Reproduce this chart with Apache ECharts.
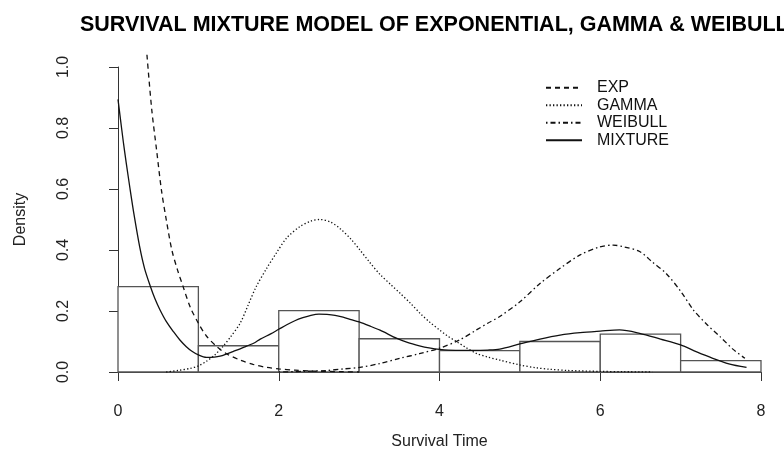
<!DOCTYPE html>
<html>
<head>
<meta charset="utf-8">
<script src="https://cdn.jsdelivr.net/npm/echarts@6/dist/echarts.min.js"></script>
<style>html,body{margin:0;padding:0;background:#fff}#c{width:784px;height:449px}</style>
</head>
<body>
<div id="c"></div>
<script>
// Histogram bins: [start, end, density]
const binStarts = [0, 1, 2, 3, 4, 5, 6, 7];
const binEnds   = [1, 2, 3, 4, 5, 6, 7, 8];
const binDensity = [0.28, 0.086, 0.201, 0.109, 0.070, 0.100, 0.124, 0.037];

// Curves: [x, density]
const expCurve = [
  [0.36,1.04],[0.42,0.86],[0.48,0.728],[0.54,0.597],[0.60,0.50],[0.67,0.40],[0.74,0.335],
  [0.81,0.28],[0.90,0.212],[1.00,0.16],[1.10,0.118],[1.23,0.083],[1.35,0.060],[1.52,0.039],
  [1.68,0.025],[1.85,0.015],[2.00,0.010],[2.20,0.006],[2.40,0.003],[2.60,0.002],[2.80,0.001],[3.00,0.0]
];
const gammaCurve = [
  [0.60,0.0],[0.75,0.005],[0.90,0.012],[1.00,0.02],[1.10,0.035],[1.20,0.055],[1.30,0.082],
  [1.40,0.115],[1.52,0.16],[1.62,0.22],[1.72,0.28],[1.85,0.34],[1.97,0.39],[2.10,0.44],
  [2.26,0.476],[2.40,0.495],[2.51,0.50],[2.64,0.492],[2.76,0.471],[2.90,0.435],[3.01,0.40],
  [3.13,0.36],[3.26,0.32],[3.40,0.285],[3.51,0.258],[3.64,0.225],[3.76,0.192],[3.88,0.163],
  [4.00,0.138],[4.10,0.118],[4.21,0.10],[4.33,0.08],[4.46,0.061],[4.60,0.049],[4.75,0.039],
  [5.00,0.023],[5.20,0.014],[5.37,0.009],[5.60,0.005],[6.00,0.002],[6.30,0.001],[6.65,0.0]
];
const weibullCurve = [
  [2.00,0.0],[2.30,0.002],[2.60,0.005],[2.80,0.010],[3.01,0.015],[3.26,0.028],[3.51,0.045],
  [3.75,0.060],[4.00,0.078],[4.25,0.105],[4.46,0.138],[4.60,0.160],[4.75,0.182],[5.00,0.23],
  [5.25,0.29],[5.50,0.34],[5.75,0.384],[5.99,0.41],[6.16,0.416],[6.30,0.41],[6.49,0.395],
  [6.65,0.36],[6.82,0.323],[7.00,0.265],[7.16,0.203],[7.33,0.155],[7.49,0.116],[7.65,0.075],[7.80,0.045]
];
const mixtureCurve = [
  [0.00,0.894],[0.03,0.83],[0.066,0.755],[0.10,0.69],[0.15,0.60],[0.20,0.515],[0.27,0.41],[0.33,0.34],
  [0.40,0.283],[0.46,0.24],[0.52,0.205],[0.60,0.166],[0.69,0.132],[0.77,0.105],[0.85,0.083],[0.92,0.068],
  [1.00,0.056],[1.10,0.048],[1.20,0.049],[1.27,0.052],[1.35,0.059],[1.43,0.067],[1.52,0.076],
  [1.60,0.085],[1.70,0.096],[1.77,0.108],[1.90,0.125],[2.00,0.14],[2.10,0.155],[2.20,0.168],
  [2.30,0.178],[2.40,0.186],[2.50,0.19],[2.60,0.189],[2.70,0.186],[2.80,0.18],[2.90,0.172],
  [3.00,0.164],[3.13,0.151],[3.26,0.137],[3.47,0.11],[3.60,0.097],[3.75,0.086],[3.87,0.079],
  [4.00,0.074],[4.20,0.071],[4.40,0.071],[4.60,0.072],[4.75,0.075],[5.00,0.092],[5.25,0.108],
  [5.50,0.121],[5.75,0.129],[6.00,0.134],[6.24,0.138],[6.49,0.127],[6.75,0.108],[7.00,0.089],
  [7.20,0.066],[7.40,0.045],[7.60,0.027],[7.82,0.015]
];
const xTicks = [0, 2, 4, 6, 8];
const yTicks = [0, 0.2, 0.4, 0.6, 0.8, 1.0];
const legendNames = ['EXP', 'GAMMA', 'WEIBULL', 'MIXTURE'];
const titleText = 'SURVIVAL MIXTURE MODEL OF EXPONENTIAL, GAMMA & WEIBULL';

const FONT = 'Liberation Sans, Arial, sans-serif';
const histData = binStarts.map((s, i) => [s, binEnds[i], binDensity[i]]);

const chart = echarts.init(document.getElementById('c'), null, {renderer: 'canvas'});
function lineSeries(name, data, type) {
  return {
    name: name, type: 'line', data: data, symbol: 'none', clip: false,
    smooth: 0.3, z: 3,
    lineStyle: {color: '#111', width: 1.3, type: type},
    itemStyle: {color: '#111'}
  };
}
chart.setOption({
  animation: false,
  backgroundColor: '#fff',
  title: {
    text: titleText, left: 75, top: 9,
    textStyle: {fontFamily: FONT, fontSize: 21.5, fontWeight: 'bold', color: '#000'}
  },
  legend: {
    data: legendNames, orient: 'vertical', left: 545, top: 79, padding: 0,
    itemWidth: 36, itemHeight: 12, itemGap: 0,
    itemStyle: {opacity: 0},
    textStyle: {fontFamily: FONT, fontSize: 16, color: '#111', lineHeight: 17.5, padding: [0, 0, 0, 10]}
  },
  grid: {left: 118, top: 67, width: 643, height: 305, outerBoundsMode: 'none', containLabel: false},
  xAxis: {
    type: 'value', min: 0, max: 8, interval: 2, offset: 11,
    name: 'Survival Time', nameLocation: 'middle', nameGap: 51,
    nameTextStyle: {fontFamily: FONT, fontSize: 16, color: '#222'},
    axisLine: {lineStyle: {color: '#333', width: 1}},
    axisTick: {length: 9, lineStyle: {color: '#333'}, customValues: xTicks},
    axisLabel: {fontFamily: FONT, fontSize: 16, color: '#222', margin: 21, customValues: xTicks},
    splitLine: {show: false}
  },
  yAxis: {
    type: 'value', min: 0, max: 1, interval: 0.2, offset: 26,
    name: 'Density', nameLocation: 'middle', nameGap: 63, nameRotate: 90,
    nameTextStyle: {fontFamily: FONT, fontSize: 16, color: '#222'},
    axisLine: {show: true, lineStyle: {color: '#333', width: 1}},
    axisTick: {show: true, length: 9, lineStyle: {color: '#333'}, customValues: yTicks},
    axisLabel: {fontFamily: FONT, fontSize: 16, color: '#222', rotate: 90, margin: 20,
      customValues: yTicks, formatter: v => v.toFixed(1)},
    splitLine: {show: false}
  },
  series: [
    {
      type: 'custom', z: 2, data: histData, silent: true,
      renderItem: function (params, api) {
        const p0 = api.coord([api.value(0), api.value(2)]);
        const p1 = api.coord([api.value(1), 0]);
        return {
          type: 'rect',
          shape: {x: p0[0], y: p0[1], width: p1[0] - p0[0], height: p1[1] - p0[1]},
          style: {fill: '#fff', stroke: '#555', lineWidth: 1.3}
        };
      }
    },
    lineSeries('EXP', expCurve, [5, 4]),
    lineSeries('GAMMA', gammaCurve, [1.3, 2.2]),
    lineSeries('WEIBULL', weibullCurve, [1.5, 3, 5, 3]),
    lineSeries('MIXTURE', mixtureCurve, 'solid')
  ]
});
</script>
</body>
</html>
